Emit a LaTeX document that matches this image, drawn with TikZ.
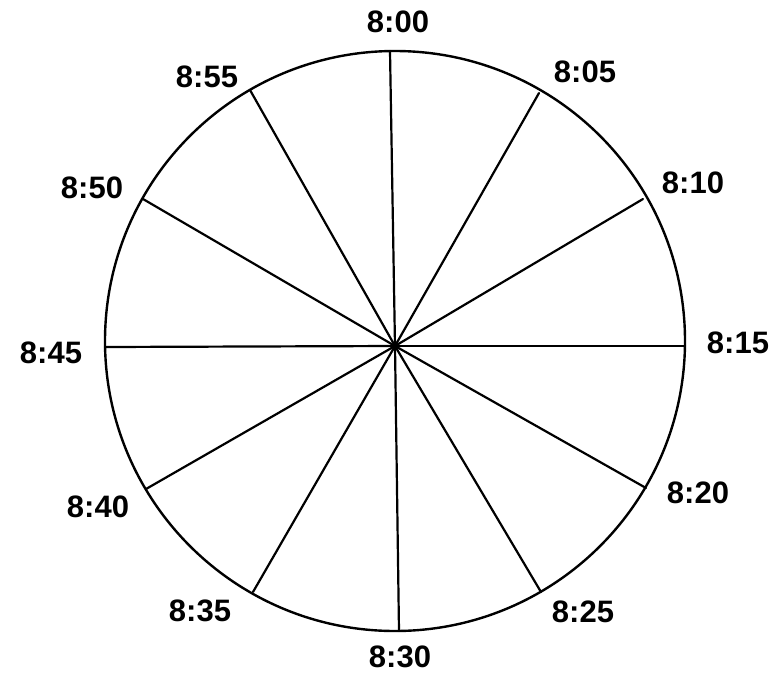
\documentclass[tikz,border=0pt]{standalone}
\usepackage{fontspec}
\setmainfont{Liberation Sans}
\begin{document}
\begin{tikzpicture}[x=1pt,y=-1pt,
  spoke/.style={line width=2.2pt, line cap=round},
  rim/.style={line width=2.4pt},
  lbl/.style={font=\fontsize{31}{36}\selectfont\bfseries, inner sep=0pt, anchor=center}]
\useasboundingbox (0,0) rectangle (782,678);
\coordinate (c) at (395,341);
\coordinate (h) at (395,346);
\draw[rim] (c) circle[radius=290];
\coordinate (e00) at (390,51);
\coordinate (e05) at (539,93);
\coordinate (e10) at (643,199);
\coordinate (e15) at (685,346);
\coordinate (e20) at (646,488);
\coordinate (e25) at (541,592);
\coordinate (e30) at (399,631);
\coordinate (e35) at (253,592);
\coordinate (e40) at (146,489);
\coordinate (e45) at (105,347);
\coordinate (e50) at (143,199);
\coordinate (e55) at (250,90);
\foreach \k in {00,05,10,15,20,25,30,35,40,45,50,55}{
  \draw[spoke] (h) -- (e\k);
}
\node[lbl] (l00) at (398,22) {8:00};
\node[lbl] (l05) at (585,72) {8:05};
\node[lbl] (l10) at (693,183) {8:10};
\node[lbl] (l15) at (738,343) {8:15};
\node[lbl] (l20) at (698,493) {8:20};
\node[lbl] (l25) at (583,612) {8:25};
\node[lbl] (l30) at (400,657) {8:30};
\node[lbl] (l35) at (200,611) {8:35};
\node[lbl] (l40) at (98,507) {8:40};
\node[lbl] (l45) at (51,353) {8:45};
\node[lbl] (l50) at (92,188) {8:50};
\node[lbl] (l55) at (207,77) {8:55};
\end{tikzpicture}
\end{document}
